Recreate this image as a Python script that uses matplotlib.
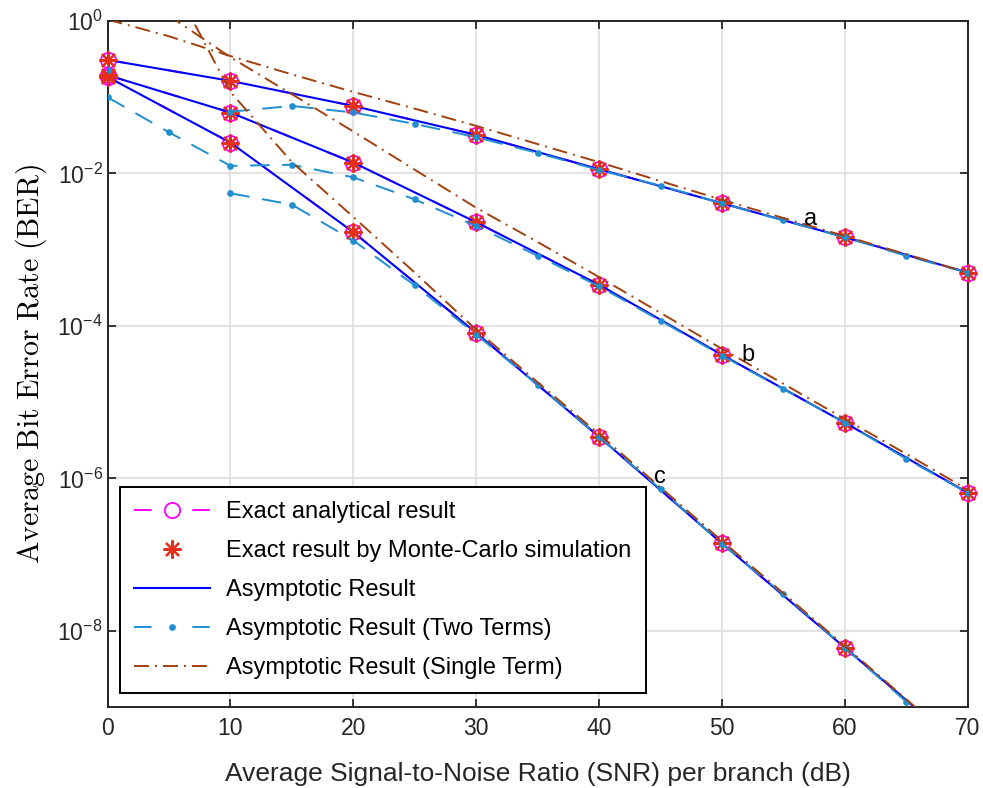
import numpy as np
import matplotlib
matplotlib.use("Agg")
import matplotlib.pyplot as plt
from matplotlib.lines import Line2D
from matplotlib.ticker import NullLocator

plt.rcParams['font.family'] = ['Liberation Sans', 'DejaVu Sans']

# SNR grids (dB)
snr_exact = [0, 10, 20, 30, 40, 50, 60, 70]
snr_asym = [0, 5, 10, 15, 20, 25, 30, 35, 40, 45, 50, 55, 60, 65, 70]

# exact BER (analytical / Monte-Carlo / asymptotic coincide)
ber_exact_a = [0.309, 0.164, 0.0769, 0.0321, 0.01138, 0.00407, 0.00146, 0.000501]
ber_exact_b = [0.195, 0.063, 0.0139, 0.00229, 3.47e-4, 4.17e-5, 5.37e-6, 6.46e-7]
ber_exact_c = [0.185, 0.0254, 0.0017, 8.1e-5, 3.5e-6, 1.4e-7, 6.0e-9, 2.5e-10]

# asymptotic, two terms
ber_two_a = [0.229, np.nan, 0.0646, 0.0769, 0.0631, 0.0447, 0.0299, 0.0186,
             0.0111, 0.00692, 0.00407, 0.00242, 0.00146, 8.3e-4, 5.0e-4]
ber_two_b = [0.1, 0.0347, 0.0126, 0.013, 0.0089, 0.00457, 0.00204, 8.3e-4,
             3.3e-4, 1.17e-4, 4.07e-5, 1.48e-5, 5.37e-6, 1.8e-6, 6.46e-7]
ber_two_c = [np.nan, np.nan, 0.0055, 0.0039, 0.00132, 3.4e-4, 7.7e-5, 1.7e-5,
             3.47e-6, 7.2e-7, 1.38e-7, 3.0e-8, 6.0e-9, 1.17e-9, 2.5e-10]

# asymptotic, single term
ber_one_a = [1.047, 0.631, 0.347, 0.1995, 0.1175, 0.0708, 0.0421, 0.0243,
             0.01406, 0.00794, 0.00451, 0.0026, 0.00151, 8.7e-4, 5.0e-4]
ber_one_b = [3.98, 1.175, 0.335, 0.1096, 0.0355, 0.0112, 0.00355, 0.00126,
             4.37e-4, 1.48e-4, 5.0e-5, 1.74e-5, 6.0e-6, 2.09e-6, 7.1e-7]
ber_one_c = [100.0, 3.98, 0.1175, 0.0141, 0.00269, 5.0e-4, 8.9e-5, 1.82e-5,
             3.8e-6, 7.6e-7, 1.51e-7, 3.1e-8, 6.3e-9, 1.26e-9, 2.5e-10]

curve_names = ['a', 'b', 'c']
curve_label_pos = [(57.2, 2.5e-3), (52.1, 4.2e-5), (44.96, 1.05e-6)]

c_exact = '#ff00ff'
c_mc = '#e2301c'
c_asym = '#0000ff'
c_two = '#1f8fd0'
c_one = '#a2400f'

dash_two = (0, (10, 6.5))
dash_one = (0, (7.7, 3.1, 1.0, 3.1))
ymin = 1e-9

fig = plt.figure(figsize=(9.83, 7.88), dpi=100)
ax = fig.add_axes([0.1094, 0.1028, 0.8751, 0.8705])

exact = [ber_exact_a, ber_exact_b, ber_exact_c]
two = [ber_two_a, ber_two_b, ber_two_c]
one = [ber_one_a, ber_one_b, ber_one_c]

for i in range(3):
    y = np.array(exact[i])
    y_vis = np.where(y >= ymin, y, np.nan)  # markers may overhang the frame, not below it
    ax.semilogy(snr_exact, y, color=c_exact, ls=(0, (9, 21)), lw=1.4, zorder=3)
    ax.semilogy(snr_exact, y_vis, ls='none', marker='o', ms=11, mfc='none',
                mec=c_exact, mew=1.3, zorder=3, clip_on=False)
    ax.semilogy(snr_exact, y, color=c_asym, ls='-', lw=1.5, zorder=4)
    ax.semilogy(snr_exact, y_vis, ls='none', marker=(8, 2, 0), ms=13,
                mec=c_mc, mew=1.6, zorder=5, clip_on=False)
    ax.semilogy(snr_asym, two[i], color=c_two, ls=dash_two, lw=1.4,
                marker='o', ms=3.8, zorder=6)
    ax.semilogy(snr_asym, one[i], color=c_one, ls=dash_one, lw=1.4, zorder=7)

for name, (x, y) in zip(curve_names, curve_label_pos):
    ax.text(x, y, name, fontsize=17, ha='center', va='center', zorder=8)

ax.set_xlim(0, 70)
ax.set_ylim(ymin, 1)
ax.set_xticks(range(0, 71, 10))
ax.set_yticks([1e0, 1e-2, 1e-4, 1e-6, 1e-8])
ax.yaxis.set_minor_locator(NullLocator())
ax.grid(True, color='#dedede', lw=1.2)
ax.set_axisbelow(True)
ax.tick_params(direction='in', length=6, width=1.3, labelsize=16.5,
               top=True, right=True, colors='#262626')
ax.tick_params(axis='x', pad=7)
for s in ax.spines.values():
    s.set_linewidth(1.4)
    s.set_color('#262626')

ax.set_xlabel('Average Signal-to-Noise Ratio (SNR) per branch (dB)', fontsize=19,
              color='#262626', labelpad=16)
ax.set_ylabel(r'$\mathrm{Average\ Bit\ Error\ Rate\ (BER)}$', fontsize=21.5,
              math_fontfamily='cm', labelpad=6)

handles = [
    Line2D([], [], color=c_exact, ls=(0, (9, 21)), lw=1.4, marker='o', ms=11,
           mfc='none', mew=1.3),
    Line2D([], [], ls='none', marker=(8, 2, 0), ms=13, mec=c_mc, mew=1.6),
    Line2D([], [], color=c_asym, ls='-', lw=1.5),
    Line2D([], [], color=c_two, ls=(0, (9, 21)), lw=1.4, marker='o', ms=3.8),
    Line2D([], [], color=c_one, ls=dash_one, lw=1.4),
]
labels = ['Exact analytical result', 'Exact result by Monte-Carlo simulation',
          'Asymptotic Result', 'Asymptotic Result (Two Terms)',
          'Asymptotic Result (Single Term)']
leg = ax.legend(handles, labels, loc='lower left', bbox_to_anchor=(0.0145, 0.0204),
                borderaxespad=0, fontsize=17, handlelength=3.2, handletextpad=0.7,
                labelspacing=0.72, borderpad=0.6, fancybox=False, framealpha=1)
leg.get_frame().set_edgecolor('black')
leg.get_frame().set_linewidth(1.4)

fig.savefig('out.png', dpi=100)
